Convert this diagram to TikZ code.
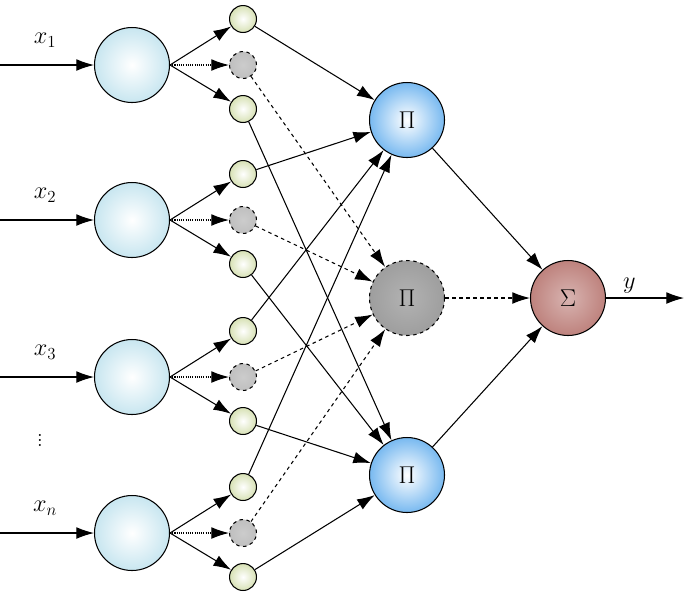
\documentclass[tikz,border=0pt]{standalone}
\usetikzlibrary{arrows.meta,shapes.geometric}
\definecolor{inblue}{RGB}{200,230,240}
\definecolor{smgreen}{RGB}{215,225,180}
\definecolor{piblue}{RGB}{120,185,240}
\definecolor{sumred}{RGB}{190,130,125}
\tikzset{
    arr/.style={-{Latex[length=15pt,width=10pt]}, line width=0.9pt},
    inpt/.style={circle, draw, line width=0.9pt, minimum size=64pt, inner color=white, outer color=inblue},
    sml/.style={circle, draw, line width=0.9pt, minimum size=23pt, inner color=white, outer color=smgreen},
    smlg/.style={sml, dashed, inner color=black!20, outer color=black!25},
    prod/.style={circle, draw, line width=0.9pt, minimum size=64pt, inner color=white, outer color=piblue, font=\fontsize{22}{26}\selectfont},
    lbl/.style={font=\fontsize{21}{25}\selectfont}
}
\begin{document}
\begin{tikzpicture}[x=0.03cm, y=-0.03cm]
    \useasboundingbox (0,0) rectangle (685,602);
    % inputs and hidden units
    \foreach \i/\y/\t in {1/65/x_1, 2/220/x_2, 3/377/x_3, 4/533/x_n} {
        \node[inpt] (in\i) at (132,\y) {};
        \coordinate (src\i) at (0,\y);
        \node[lbl] (lab\i) at (45,\y-25) {$\t$};
        \draw[arr] (src\i) -- (in\i);
        \node[sml] (a\i) at (243,\y-46) {};
        \node[smlg] (b\i) at (243,\y) {};
        \node[sml] (c\i) at (243,\y+44) {};
        \draw[arr] (in\i.east) -- (a\i);
        \draw[arr, densely dotted] (in\i.east) -- (b\i);
        \draw[arr] (in\i.east) -- (c\i);
    }
    \node[lbl] (dots) at (40,437) {$\vdots$};

    % product units
    \node[prod] (p1) at (407,120) {$\Pi$};
    \node[prod, dashed, inner color=black!30, outer color=black!38] (p2) at (407,298) {$\Pi$};
    \node[prod] (p3) at (407,475) {$\Pi$};
    \node[prod, inner color=white!40!sumred, outer color=sumred] (sum) at (568,298) {$\Sigma$};

    \foreach \i in {1,...,4} {
        \draw[arr] (a\i) -- (p1);
        \draw[arr, dashed] (b\i) -- (p2);
        \draw[arr] (c\i) -- (p3);
    }
    \draw[arr] (p1) -- (sum);
    \draw[arr, dashed] (p2) -- (sum);
    \draw[arr] (p3) -- (sum);
    \coordinate (out) at (684,298);
    \draw[arr] (sum) -- (out) node[lbl, pos=0.3, above] {$y$};
\end{tikzpicture}
\end{document}
